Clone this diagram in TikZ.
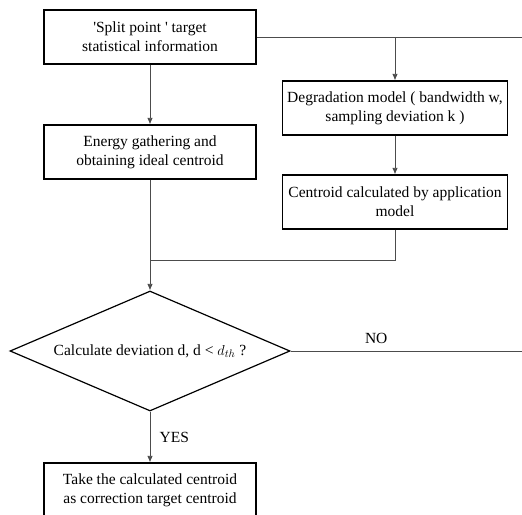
\documentclass[tikz,border=0pt]{standalone}
\usepackage{fontspec}
\setmainfont{Liberation Serif}
\usepackage{amsmath}
\usetikzlibrary{
    arrows.meta,
    shapes.geometric,
    calc,
    positioning,
}

\begin{document}
\begin{tikzpicture}[x=1pt,y=-1pt,>={Latex[length=6.5pt,width=5.5pt]},font=\fontsize{15.5}{19}\selectfont]

                \tikzstyle{commonNode}=[align=center, draw=black, line width=1.2pt, inner sep=0pt]
                \tikzstyle{stage}=[commonNode, rectangle, minimum width=212pt, minimum height=54pt]
                \tikzstyle{wideStage}=[stage, minimum width=225pt]
                \tikzstyle{check}=[commonNode, diamond, shape aspect=2.33, minimum width=280pt, minimum height=120pt]
                \tikzstyle{flow}=[draw=black!70, line width=0.8pt]

                \useasboundingbox (0,0) rectangle (522,514);
                \clip (0,0) rectangle (522,514);

                \begin{scope}

                    \def \lcol {150}
                    \def \rcol {395}

                    % Left column
                    \node at (\lcol, 37) [stage] (SP) {\textquotesingle Split point \textquotesingle{} target \\ statistical information};
                    \node at (\lcol, 152) [stage] (EG) {Energy gathering and \\ obtaining ideal centroid};
                    \node at (\lcol, 351) [check] (CD) {Calculate deviation d, d < $d_{th}$ ?};
                    \node at (\lcol, 490) [stage] (TC) {Take the calculated centroid \\ as correction target centroid};

                    % Right column
                    \node at (\rcol, 108) [wideStage] (DM) {Degradation model ( bandwidth w, \\ sampling deviation k )};
                    \node at (\rcol, 202) [wideStage] (CA) {Centroid calculated by application \\ model};

                    % Free ends and joints
                    \coordinate (SPout) at (522, 37);
                    \coordinate (SPtap) at (\rcol, 37);
                    \coordinate (CAjoin) at (\rcol, 260);
                    \coordinate (EGjoin) at (\lcol, 260);
                    \coordinate (NOout) at (522, 351);

                    % Connectors
                    \draw [flow, ->] (SP) -- (EG);
                    \draw [flow] (SP.east) -- (SPout);
                    \draw [flow, ->] (SPtap) -- (DM);
                    \draw [flow, ->] (DM) -- (CA);
                    \draw [flow] (CA.south) -- (CAjoin) -- (EGjoin);
                    \draw [flow, ->] (EG) -- (CD.north);
                    \draw [flow] (CD.east) -- node [above=4pt, pos=0.37] (NO) {NO} (NOout);
                    \draw [flow, ->] (CD.south) -- node [right=6pt, pos=0.5] (YES) {YES} (TC.north);
                \end{scope}
            \end{tikzpicture}
\end{document}
